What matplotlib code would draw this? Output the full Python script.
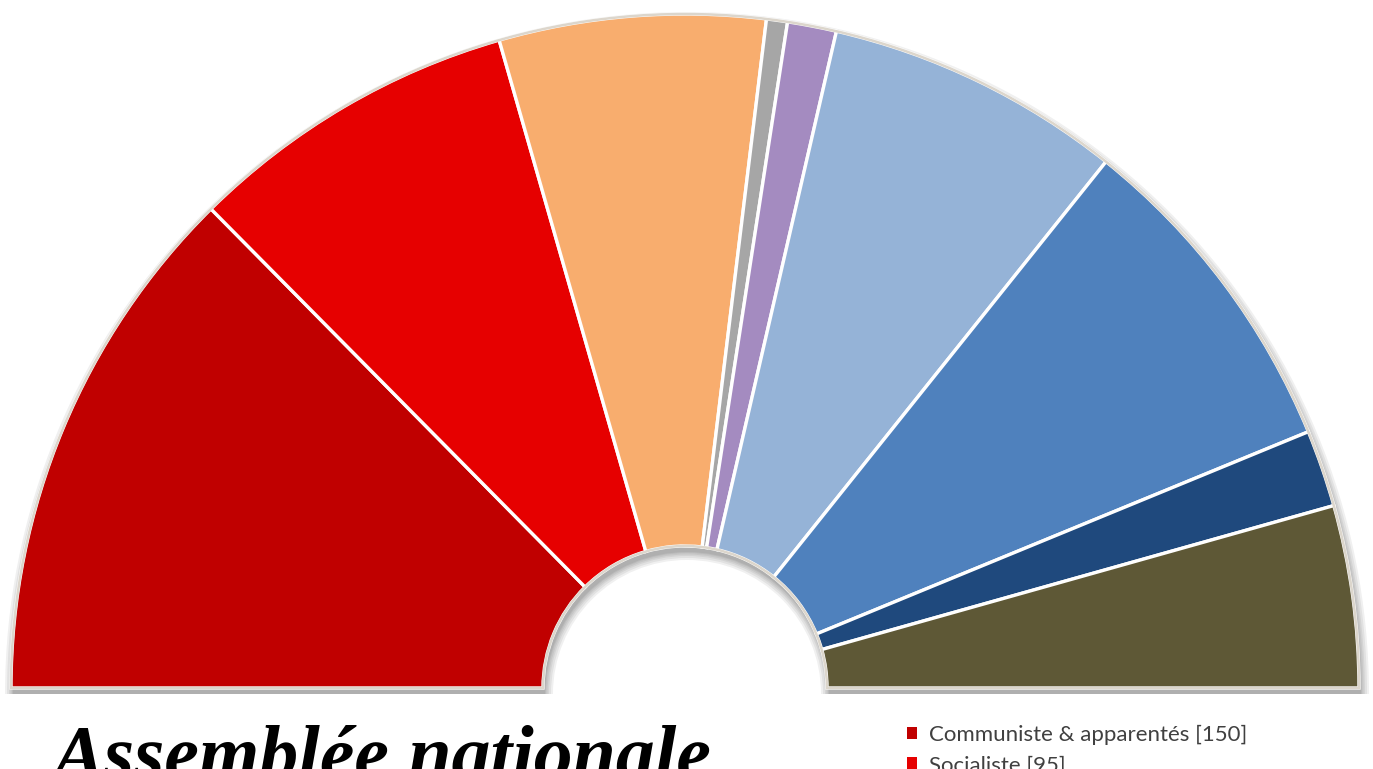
import matplotlib.pyplot as plt
from matplotlib.patches import Wedge

# Seats per group (Assemblée nationale, left to right)
groups = ['Communiste & apparentés', 'Socialiste', 'Radicaux, UDSR & RGR',
          'Divers gauche', 'Rassemblement des gauches', 'MRP',
          'Indépendants & paysans', 'Républicains sociaux',
          'Union et fraternité française']
seats = [150, 95, 76, 6, 14, 85, 96, 22, 52]
colors = ['#C00000', '#E60000', '#F8AD6E', '#A6A6A6', '#A48BC0',
          '#95B3D7', '#4F81BD', '#1F497D', '#5E5836']
title = 'Assemblée nationale'

W, H = 1373, 769
fig = plt.figure(figsize=(W / 100, H / 100), dpi=100)
ax = fig.add_axes([0, 0, 1, 1])

cx, cy = 685, H - 688
R, r_in = 674, 142

# soft drop shadow under the half ring
for grow in [8, 6, 4, 2.5, 1, 0]:
    ax.add_patch(Wedge((cx + 2, cy - 6), R + grow, 0, 180,
                       width=R - r_in + 2 * grow, facecolor='black',
                       edgecolor='none', alpha=0.06, zorder=1))

# half donut: add an invisible slice for the bottom half
total = sum(seats)
wedges, _ = ax.pie(seats + [total], colors=colors + ['white'],
                   startangle=180, counterclock=False,
                   center=(cx, cy), radius=R,
                   wedgeprops=dict(width=R - r_in, edgecolor='white',
                                   linewidth=2.4))
wedges[-1].set_visible(False)
for w in wedges:
    w.set_zorder(2)

# light outline around the ring
ax.add_patch(Wedge((cx, cy), R, 0, 180, width=R - r_in, facecolor='none',
                   edgecolor='#DCD6CC', linewidth=1.8, zorder=3))

ax.set_xlim(0, W)
ax.set_ylim(0, H)
ax.set_aspect('equal')
ax.axis('off')

ax.text(52, H - 779, title, fontsize=56, fontweight='bold',
        fontstyle='italic', family='Liberation Serif', ha='left',
        va='baseline', color='black')

labels = [f'{g} [{s}]' for g, s in zip(groups, seats)]
leg = ax.legend(wedges[:-1], labels, loc='upper left',
                bbox_to_anchor=(896, H - 714), bbox_transform=ax.transData,
                frameon=False, borderpad=0,
                handlelength=0.45, handleheight=0.45, handletextpad=0.55,
                labelspacing=0.45, prop={'family': 'Lato', 'size': 16})
for t in leg.get_texts():
    t.set_color('#404040')
for h in leg.legend_handles:
    h.set_edgecolor('none')

fig.savefig('out.png', dpi=100)
